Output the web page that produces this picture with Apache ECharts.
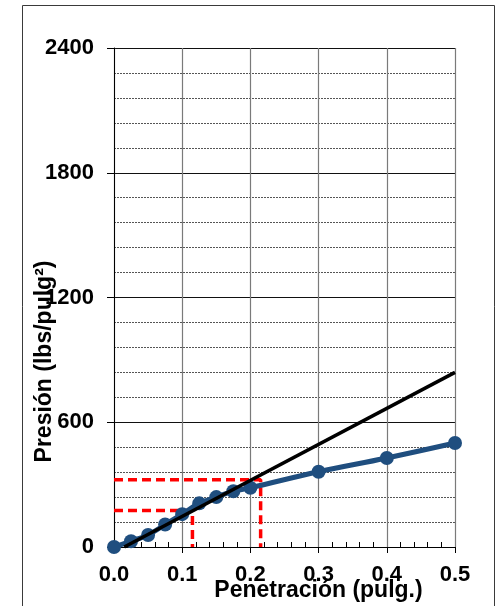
<!DOCTYPE html>
<html>
<head>
<meta charset="utf-8">
<style>
  html, body { margin: 0; padding: 0; background: #fff; }
  #chart { width: 497px; height: 606px; }
</style>
<script src="https://cdn.jsdelivr.net/npm/echarts@6/dist/echarts.min.js"></script>
</head>
<body>
<div id="chart"></div>
<script>
// Ensayo de penetración: lecturas de carga
const penetration = [0, 0.025, 0.05, 0.075, 0.1, 0.125, 0.15, 0.175, 0.2, 0.3, 0.4, 0.5];
const pressure    = [0, 28, 58, 108, 158, 210, 240, 268, 285, 362, 428, 500];

// Recta de corrección (tramo inicial)
const correctedX = [0.015, 0.5];
const correctedY = [0, 840];

// Lecturas corregidas a 0.1" y 0.2"
const readX = [0.115, 0.215];
const readY = [176, 323];

// Ejes
const xTicks = { min: 0, max: 0.5, step: 0.1 };
const yTicks = { min: 0, max: 2400, step: 600 };

const font = "'Liberation Sans', Arial, sans-serif";

const curve = penetration.map((x, i) => [x, pressure[i]]);
const corrected = correctedX.map((x, i) => [x, correctedY[i]]);
const guides = readX.map((x, i) => [[0, readY[i]], [x, readY[i]], [x, 0]]);

const chart = echarts.init(document.getElementById('chart'));
chart.setOption({
  backgroundColor: '#fff',
  animation: false,
  grid: { left: 114, right: 42, top: 48, bottom: 59, containLabel: false, outerBoundsMode: 'none' },
  graphic: [{
    type: 'rect',
    shape: { x: 22.5, y: 5.5, width: 472, height: 620 },
    style: { fill: 'none', stroke: '#3a3a3a', lineWidth: 1 },
    silent: true
  }],
  xAxis: [{
    type: 'value',
    position: 'bottom',
    min: xTicks.min, max: xTicks.max, interval: xTicks.step,
    axisLine: { lineStyle: { color: '#000', width: 1 } },
    axisTick: { show: true, length: 6, lineStyle: { color: '#000' } },
    axisLabel: {
      margin: 17, color: '#000', fontFamily: font, fontWeight: 'bold', fontSize: 22,
      formatter: v => v.toFixed(1)
    },
    splitLine: { show: true, lineStyle: { color: '#7a7a7a', width: 1.2 } },
    name: 'Penetración (pulg.)',
    nameLocation: 'middle',
    nameGap: 32,
    nameMoveOverlap: false,
    nameTextStyle: { color: '#000', fontFamily: font, fontWeight: 'bold', fontSize: 23, padding: [0, 0, 0, 68] }
  }, {
    // marcas menores interiores cada 0.02
    type: 'value',
    position: 'bottom',
    min: xTicks.min, max: xTicks.max, interval: xTicks.step,
    axisLine: { show: false },
    axisTick: { show: false, inside: true },
    minorTick: { show: true, splitNumber: 5, length: 5, lineStyle: { color: '#000', width: 1 } },
    axisLabel: { show: false },
    splitLine: { show: false }
  }],
  yAxis: {
    type: 'value',
    min: yTicks.min, max: yTicks.max, interval: yTicks.step,
    axisLine: { show: true, lineStyle: { color: '#000', width: 1 } },
    axisTick: { show: true, length: 7, lineStyle: { color: '#000' } },
    minorTick: { show: false, splitNumber: 5 },
    axisLabel: {
      margin: 20, color: '#000', fontFamily: font, fontWeight: 'bold', fontSize: 22,
      formatter: v => String(v)
    },
    splitLine: { show: true, lineStyle: { color: '#111', width: 1 } },
    minorSplitLine: { show: true, lineStyle: { color: '#555', width: 1, type: [2, 1] } },
    name: 'Presión (lbs/pulg²)',
    nameLocation: 'middle',
    nameGap: 58,
    nameMoveOverlap: false,
    nameTextStyle: { color: '#000', fontFamily: font, fontWeight: 'bold', fontSize: 23, padding: [0, 128, 0, 0] }
  },
  series: [
    ...guides.map(g => ({
      type: 'line',
      data: g,
      symbol: 'none',
      lineStyle: { color: '#ff0000', width: 3.5, type: [9, 5] },
      z: 2
    })),
    {
      type: 'line',
      data: curve,
      smooth: 0.4,
      symbol: 'circle',
      symbolSize: 14,
      itemStyle: { color: '#1f4e7f' },
      lineStyle: { color: '#1f4e7f', width: 5 },
      z: 3
    },
    {
      type: 'line',
      data: corrected,
      symbol: 'none',
      lineStyle: { color: '#000', width: 3.5 },
      z: 4
    }
  ]
});
</script>
</body>
</html>
